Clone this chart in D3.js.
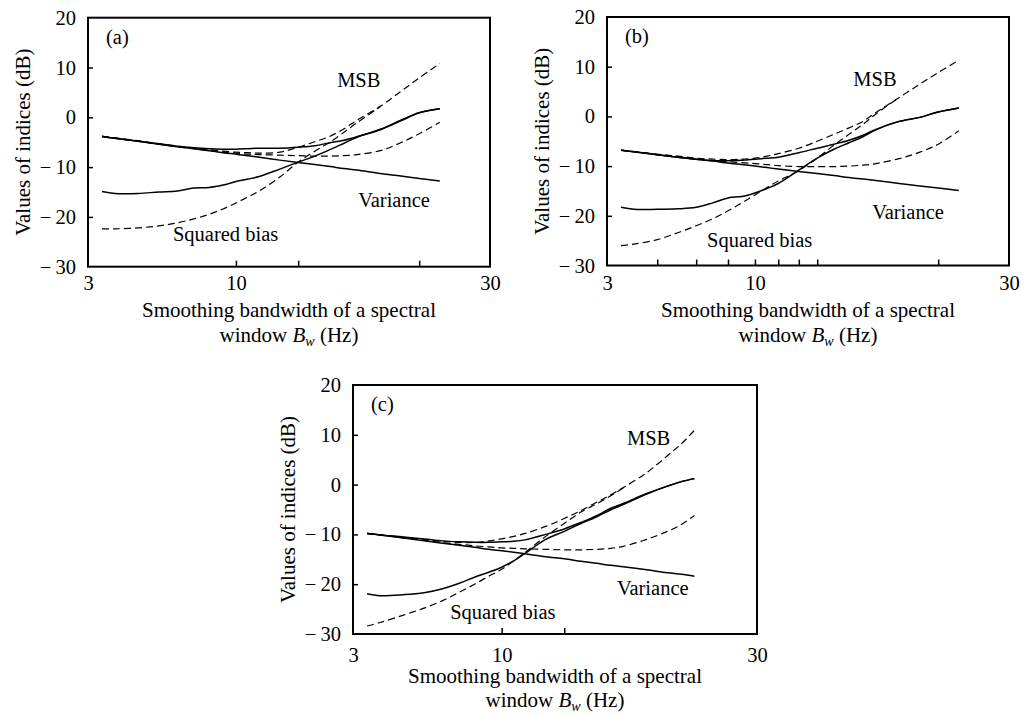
<!DOCTYPE html>
<html>
<head>
<meta charset="utf-8">
<script src="https://cdn.jsdelivr.net/npm/d3@7"></script>
<style>
  html, body { margin: 0; padding: 0; background: #fff; }
  svg { display: block; font-family: "Liberation Serif", "Times New Roman", serif; }
</style>
</head>
<body>
<svg id="chart" width="1024" height="716"></svg>
<script>
// Smoothing bandwidth grid (Hz) for each panel
const bwA = [3.25, 3.5, 4, 4.5, 5, 5.5, 6, 6.5, 7, 7.5, 8, 9, 10, 11, 12, 13, 14, 16, 18, 20, 22.5];
const bwB = [3.25, 3.5, 4, 4.5, 5, 5.5, 6, 6.5, 7, 7.5, 8, 9, 10, 11, 12, 13, 14, 16, 18, 20, 22.5];
const bwC = [3.25, 3.5, 4, 4.5, 5, 5.5, 6, 6.5, 7, 7.5, 8, 9, 10, 11, 12, 13, 14, 16, 18, 19.5, 21];

// Panel (a), dB (null = the squared-bias curve has joined the MSB curve)
const varianceA  = [-3.9, -4.2, -4.8, -5.4, -5.9, -6.3, -6.7, -7.1, -7.4, -7.7, -8.0, -8.6, -9.1, -9.5, -9.9, -10.3, -10.6, -11.3, -11.8, -12.3, -12.8];
const msbEstA    = [-3.8, -4.2, -4.8, -5.3, -5.8, -6.1, -6.3, -6.4, -6.4, -6.3, -6.2, -6.2, -6.0, -5.7, -5.1, -4.6, -3.9, -2.4, -0.6, 0.9, 1.7];
const biasEstA   = [-14.9, -15.3, -15.3, -15.0, -14.8, -14.2, -14.1, -13.6, -12.9, -12.4, -11.9, -10.4, -9.0, -7.8, -6.5, -5.2, -4.0, -2.5, -0.7, 0.9, 1.7];
const msbTheoA   = [-3.8, -4.1, -4.7, -5.3, -5.8, -6.2, -6.5, -6.8, -7.0, -7.1, -7.2, -7.0, -6.0, -4.9, -3.8, -2.3, -0.6, 2.2, 5.2, 7.9, 10.8];
const biasTheoA  = [-22.4, -22.4, -22.2, -21.8, -21.2, -20.4, -19.5, -18.4, -17.2, -16.0, -14.8, -12.0, -9.0, -6.8, -5.0, -3.0, -1.1, 2.1, null, null, null];
const thirdA     = [-3.8, -4.2, -4.8, -5.4, -5.9, -6.3, -6.7, -7.0, -7.2, -7.4, -7.5, -7.6, -7.7, -7.8, -7.8, -7.7, -7.5, -6.7, -5.1, -3.3, -1.0];

// Panel (b), dB
const varianceB  = [-6.8, -7.1, -7.7, -8.2, -8.6, -9.0, -9.4, -9.7, -10.0, -10.3, -10.6, -11.1, -11.5, -11.9, -12.3, -12.6, -12.9, -13.5, -14.0, -14.4, -14.9];
const msbEstB    = [-6.8, -7.1, -7.7, -8.2, -8.6, -8.9, -8.9, -8.8, -8.6, -8.4, -8.2, -7.3, -6.4, -5.6, -4.8, -3.8, -2.6, -1.0, -0.2, 0.9, 1.7];
const biasEstB   = [-18.3, -18.7, -18.7, -18.6, -18.3, -17.4, -16.4, -16.1, -15.4, -14.5, -13.5, -10.8, -8.4, -6.6, -5.3, -4.1, -2.7, -1.0, -0.2, 0.9, 1.7];
const msbTheoB   = [-6.8, -7.1, -7.6, -8.0, -8.4, -8.6, -8.7, -8.6, -8.4, -8.0, -7.5, -6.4, -5.0, -3.6, -2.3, -1.0, 0.8, 3.8, 6.5, 8.8, 11.3];
const biasTheoB  = [-26.0, -25.7, -24.8, -23.4, -22.0, -20.6, -19.0, -17.4, -15.8, -14.3, -13.0, -10.9, -8.4, -5.8, -3.6, -1.6, 0.5, 3.8, null, null, null];
const thirdB     = [-6.8, -7.1, -7.7, -8.2, -8.6, -8.9, -9.1, -9.3, -9.5, -9.7, -9.9, -10.1, -10.1, -10.1, -10.0, -9.8, -9.5, -8.5, -7.2, -5.6, -2.9];

// Panel (c), dB
const varianceC  = [-9.8, -10.1, -10.7, -11.3, -11.8, -12.2, -12.6, -13.0, -13.3, -13.6, -13.9, -14.5, -14.9, -15.4, -15.8, -16.2, -16.5, -17.1, -17.7, -18.0, -18.4];
const msbEstC    = [-9.8, -10.1, -10.5, -10.9, -11.3, -11.5, -11.6, -11.6, -11.5, -11.4, -11.1, -10.0, -8.9, -7.6, -6.3, -4.8, -3.8, -1.8, -0.3, 0.6, 1.2];
const biasEstC   = [-21.9, -22.3, -22.1, -21.7, -20.9, -19.8, -18.6, -17.6, -16.6, -15.3, -13.8, -11.0, -9.4, -7.8, -6.5, -5.1, -4.0, -1.9, -0.3, 0.6, 1.2];
const msbTheoC   = [-9.8, -10.1, -10.6, -11.1, -11.4, -11.6, -11.6, -11.3, -10.9, -10.4, -9.8, -8.4, -6.8, -5.2, -3.6, -2.1, -0.6, 2.4, 5.8, 8.2, 10.9];
const biasTheoC  = [-28.4, -27.7, -26.2, -24.8, -23.3, -21.6, -20.0, -18.4, -17.0, -15.3, -13.6, -10.4, -7.8, -5.5, -3.9, -2.3, -0.7, null, null, null, null];
const thirdC     = [-9.8, -10.1, -10.7, -11.2, -11.7, -12.0, -12.3, -12.5, -12.7, -12.8, -12.9, -13.0, -13.1, -13.1, -13.0, -12.8, -12.4, -11.0, -9.4, -8.0, -6.2];

// Axis ticks and labels
const yTickValues = [20, 10, 0, -10, -20, -30];
const yTickMarks = [10, 0, -10, -20];
const xLabelAt = [3, 7, 30];
const xLabelText = ["3", "10", "30"];
const minorTicksA = [7, 10, 20];
const minorTicksB = [4, 5, 6, 7, 8, 9, 10, 20];
const minorTicksC = [7, 10];

const panels = [
  { tag: "(a)", left: 88, top: 17.7, width: 402, height: 249, bw: bwA, minor: minorTicksA,
    solid: [varianceA, msbEstA, biasEstA], dashed: [msbTheoA, biasTheoA, thirdA],
    pad: 9, title1: 317, title2: 342,
    notes: { msb: [12.5, 6.1], variance: [14.1, -18.0], bias: [4.88, -24.8] } },
  { tag: "(b)", left: 607, top: 17, width: 402, height: 248.5, bw: bwB, minor: minorTicksB,
    solid: [varianceB, msbEstB, biasEstB], dashed: [msbTheoB, biasTheoB, thirdB],
    pad: 10, title1: 317, title2: 342,
    notes: { msb: [12.3, 6.1], variance: [13.7, -20.7], bias: [5.32, -26.2] } },
  { tag: "(c)", left: 353, top: 385, width: 404, height: 249, bw: bwC, minor: minorTicksC,
    solid: [varianceC, msbEstC, biasEstC], dashed: [msbTheoC, biasTheoC, thirdC],
    pad: 13, title1: 683, title2: 707,
    notes: { msb: [14.3, 8.0], variance: [13.5, -22.1], bias: [5.22, -26.9] } }
];

const svg = d3.select("#chart");
const fmtY = d => d < 0 ? "\u2212\u2009" + Math.abs(d) : String(d);

panels.forEach(p => {
  const x = d3.scaleLog().domain([3, 30]).range([p.left, p.left + p.width]);
  const y = d3.scaleLinear().domain([-30, 20]).range([p.top + p.height, p.top]);
  const g = svg.append("g");

  const line = d3.line()
    .defined(d => d !== null)
    .x((d, i) => x(p.bw[i]))
    .y(d => y(d))
    .curve(d3.curveCatmullRom.alpha(0.5));

  // curves
  p.dashed.forEach(vals => {
    g.append("path").datum(vals).attr("d", line)
      .attr("fill", "none").attr("stroke", "#000")
      .attr("stroke-width", 1.2).attr("stroke-dasharray", "7,4");
  });
  p.solid.forEach(vals => {
    g.append("path").datum(vals).attr("d", line)
      .attr("fill", "none").attr("stroke", "#000")
      .attr("stroke-width", 1.5);
  });

  // frame
  g.append("rect")
    .attr("x", p.left).attr("y", p.top)
    .attr("width", p.width).attr("height", p.height)
    .attr("fill", "none").attr("stroke", "#000").attr("stroke-width", 2);

  // y tick marks (inward) and labels
  const yMarks = g.append("g").attr("transform", `translate(${p.left},0)`)
    .call(d3.axisRight(y).tickValues(yTickMarks).tickSize(5).tickFormat(""));
  yMarks.select(".domain").remove();
  yMarks.selectAll("line").attr("stroke", "#000").attr("stroke-width", 1.5);

  const yLab = g.append("g").attr("transform", `translate(${p.left},0)`)
    .call(d3.axisLeft(y).tickValues(yTickValues).tickSize(0).tickPadding(12).tickFormat(fmtY));
  yLab.select(".domain").remove();
  yLab.attr("font-family", null).attr("font-size", null);
  yLab.selectAll("text").attr("font-size", 20.5).attr("fill", "#000");

  // x tick marks (inward) and labels
  const xMarks = g.append("g").attr("transform", `translate(0,${p.top + p.height})`)
    .call(d3.axisTop(x).tickValues(p.minor).tickSize(6).tickFormat(""));
  xMarks.select(".domain").remove();
  xMarks.selectAll("line").attr("stroke", "#000").attr("stroke-width", 1.5);

  const xLab = g.append("g").attr("transform", `translate(0,${p.top + p.height})`)
    .call(d3.axisBottom(x).tickValues(xLabelAt).tickSize(0).tickPadding(p.pad)
      .tickFormat((d, i) => xLabelText[i]));
  xLab.select(".domain").remove();
  xLab.attr("font-family", null).attr("font-size", null);
  xLab.selectAll("text").attr("font-size", 20.5).attr("fill", "#000");

  // axis titles
  g.append("text")
    .attr("transform", `translate(${p.left - 58},${p.top + p.height / 2}) rotate(-90)`)
    .attr("text-anchor", "middle").attr("font-size", 21)
    .text("Values of indices (dB)");

  const cx = p.left + p.width / 2;
  g.append("text").attr("x", cx).attr("y", p.title1)
    .attr("text-anchor", "middle").attr("font-size", 21)
    .text("Smoothing bandwidth of a spectral");
  const t2 = g.append("text").attr("x", cx).attr("y", p.title2)
    .attr("text-anchor", "middle").attr("font-size", 21);
  t2.append("tspan").text("window ");
  t2.append("tspan").attr("font-style", "italic").text("B");
  t2.append("tspan").attr("font-style", "italic").attr("font-size", 14).attr("dy", 4).text("w");
  t2.append("tspan").attr("dy", -4).text(" (Hz)");

  // panel tag and curve names
  g.append("text").attr("x", p.left + 18).attr("y", p.top + 26)
    .attr("font-size", 20.5).text(p.tag);
  g.append("text").attr("x", x(p.notes.msb[0])).attr("y", y(p.notes.msb[1]))
    .attr("font-size", 20.5).text("MSB");
  g.append("text").attr("x", x(p.notes.variance[0])).attr("y", y(p.notes.variance[1]))
    .attr("font-size", 20.5).text("Variance");
  g.append("text").attr("x", x(p.notes.bias[0])).attr("y", y(p.notes.bias[1]))
    .attr("font-size", 20.5).text("Squared bias");
});
</script>
</body>
</html>
